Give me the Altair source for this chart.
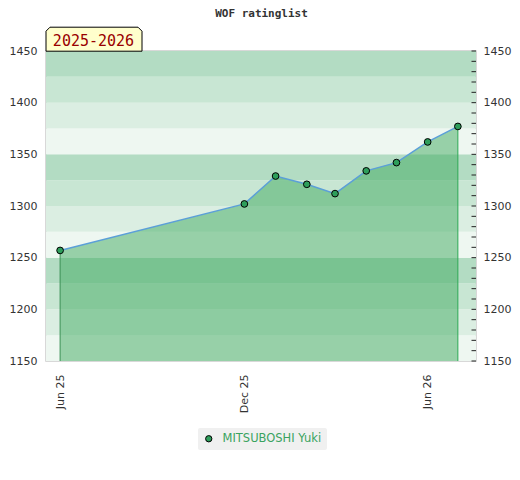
import altair as alt
import pandas as pd
from datetime import date

# ---- data ----
title_text = "WOF ratinglist"
season_label = "2025-2026"
player = "MITSUBOSHI Yuki"
dates = ["2025-06-01", "2025-12-01", "2026-01-01", "2026-02-01", "2026-03-01",
         "2026-04-01", "2026-05-01", "2026-06-01", "2026-07-01"]
ratings = [1257, 1302, 1329, 1321, 1312, 1334, 1342, 1362, 1377]

y_min, y_max = 1150, 1450
band_step = 25
y_label_values = [1150, 1200, 1250, 1300, 1350, 1400, 1450]
y_minor_values = list(range(1150, 1451, 10))
x_tick_dates = ["2025-06-01", "2025-12-01", "2026-06-01"]
x_domain_dates = ["2025-05-18", "2026-07-19"]
band_colors = ["#b3dcc3", "#c8e6d3", "#dbeee2", "#eef7f1"]


def dt(s):
    d = date.fromisoformat(s)
    return alt.DateTime(year=d.year, month=d.month, date=d.day, utc=True)


df = pd.DataFrame({"date": dates, "rating": ratings, "player": [player] * len(dates)})
band_lows = list(range(y_min, y_max, band_step))
bands = pd.DataFrame({
    "lo": band_lows,
    "hi": [b + band_step for b in band_lows],
    "shade": [((y_max - band_step - b) // band_step) % 4 for b in band_lows],
})
ticks_df = pd.DataFrame({"v": y_minor_values})
one = pd.DataFrame({"title": [title_text], "season": [season_label]})

yscale = alt.Scale(domain=[y_min, y_max], nice=False, zero=False)
xscale = alt.Scale(type="utc", domain=[dt(s) for s in x_domain_dates])
xaxis = alt.Axis(
    values=[dt(s) for s in x_tick_dates],
    labelExpr="utcFormat(datum.value, '%b %y')",
    labelAngle=270, labelAlign="right", labelBaseline="middle",
    labelPadding=13, ticks=False, domain=False, grid=False, title=None,
    labelFont="DejaVu Sans", labelFontSize=11, labelColor="#333333",
    labelFlush=False, labelOverlap=False,
)
X = alt.X("date:T", scale=xscale, axis=xaxis)

bands_layer = alt.Chart(bands).mark_rect().encode(
    x=alt.value(0), x2=alt.value("width"),
    y=alt.Y("lo:Q", scale=yscale, axis=alt.Axis(
        values=y_label_values, format="d", ticks=False, domain=False, grid=False,
        title=None, labelPadding=9, labelFont="DejaVu Sans", labelFontSize=11,
        labelColor="#333333", labelFlush=False, orient="left")),
    y2="hi:Q",
    color=alt.Color("shade:O", scale=alt.Scale(domain=[0, 1, 2, 3], range=band_colors), legend=None),
)

area_layer = alt.Chart(df).mark_area(color="#40a960", opacity=0.5, clip=True).encode(
    x=X, y=alt.Y("rating:Q", scale=yscale, axis=None), y2=alt.datum(y_min),
)

rule_first = alt.Chart(df.iloc[[0]]).mark_rule(color="#3a8f55", strokeWidth=1).encode(
    x=X, y=alt.Y("rating:Q", scale=yscale, axis=None), y2=alt.datum(y_min),
)
rule_last = alt.Chart(df.iloc[[-1]]).mark_rule(color="#2eaa55", strokeWidth=1).encode(
    x=X, y=alt.Y("rating:Q", scale=yscale, axis=None), y2=alt.datum(y_min),
)

line_layer = alt.Chart(df).mark_line(color="#5b9fd8", strokeWidth=1.5).encode(
    x=X, y=alt.Y("rating:Q", scale=yscale, axis=None),
)

# inward-pointing minor/major ticks along the right edge
ticks_layer = alt.Chart(ticks_df).mark_rule(color="#222222", strokeWidth=1).encode(
    x=alt.value(425.5), x2=alt.value(430),
    y=alt.Y("v:Q", scale=yscale, axis=None),
)

points_layer = alt.Chart(df).mark_point(
    filled=True, stroke="black", strokeWidth=1, size=45, opacity=1
).encode(
    x=X,
    y=alt.Y("rating:Q", scale=yscale, axis=alt.Axis(
        orient="right", values=y_label_values, format="d", ticks=False,
        domain=False, grid=False, title=None,
        labelPadding=7, labelFont="DejaVu Sans", labelFontSize=11,
        labelColor="#333333", labelFlush=False, labelOverlap=False)),
    color=alt.Color("player:N", scale=alt.Scale(range=["#2e9e5b"]), legend=alt.Legend(
        title=None, orient="none", legendX=152, legendY=377,
        fillColor="#f0f0f0", padding=5, cornerRadius=2,
        labelColor="#3aa35f", labelFont="DejaVu Sans", labelFontSize=11.5,
        labelOffset=8,
        symbolType="circle", symbolSize=40, symbolStrokeColor="black",
        symbolStrokeWidth=1, symbolFillColor="#2e9e5b")),
)

badge_shape = "M-1,0.25 L-1,-0.167 L-0.917,-0.25 L0.917,-0.25 L1,-0.167 L1,0.25 Z"
badge = alt.Chart(one).mark_point(
    shape=badge_shape, filled=True, fill="#ffffcc", stroke="black",
    strokeWidth=1, size=9216, opacity=1, clip=False
).encode(x=alt.value(48), y=alt.value(-11.8))

badge_text = alt.Chart(one).mark_text(
    font="DejaVu Sans Mono", fontSize=15, color="#990000",
    align="center", baseline="alphabetic"
).encode(x=alt.value(47.5), y=alt.value(-5), text="season:N")

title_mark = alt.Chart(one).mark_text(
    font="DejaVu Sans Mono", fontSize=11, fontWeight="bold", color="#333333",
    align="center", baseline="alphabetic"
).encode(x=alt.value(215.5), y=alt.value(-34), text="title:N")

chart = alt.layer(
    bands_layer, area_layer, rule_first, rule_last, line_layer, ticks_layer,
    points_layer, badge, badge_text, title_mark,
).resolve_scale(
    color="independent", y="shared"
).resolve_axis(
    y="independent"
).properties(
    width=430, height=310,
    padding={"left": 38, "top": 43, "right": 36, "bottom": 100},
    autosize=alt.AutoSizeParams(type="none"),
).configure_view(
    stroke="#cccccc", strokeWidth=1.5
)

chart.save("out.html", embed_options={"renderer": "svg", "actions": False})
